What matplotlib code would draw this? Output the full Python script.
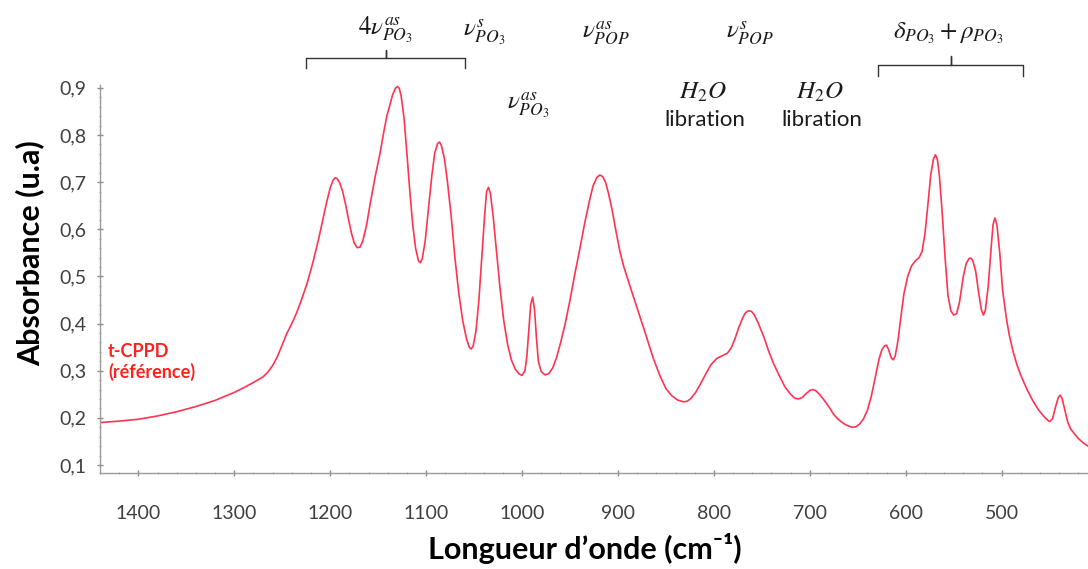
import matplotlib
matplotlib.use("Agg")
import matplotlib.pyplot as plt
from matplotlib.ticker import MultipleLocator, FuncFormatter
from matplotlib.lines import Line2D

plt.rcParams['font.family'] = ['Lato', 'DejaVu Sans']
plt.rcParams['mathtext.fontset'] = 'stix'

# Spectrum: wavenumber (cm-1) and absorbance (u.a)
wavenumber = [
    1440, 1434, 1420, 1400, 1380, 1360, 1340, 1320, 1300, 1290,
    1280, 1270, 1265, 1260, 1255, 1250, 1245, 1240, 1235, 1230,
    1224, 1218, 1212, 1208, 1204, 1200, 1197, 1195, 1193, 1190,
    1187, 1184, 1181, 1178, 1175, 1172, 1169, 1166, 1162, 1158,
    1153, 1148, 1144, 1141, 1138, 1135, 1132, 1130, 1128, 1126,
    1123, 1120, 1117, 1114, 1111, 1108, 1106, 1104, 1101, 1098,
    1094, 1091, 1088, 1086, 1084, 1081, 1078, 1074, 1070, 1066,
    1062, 1058, 1055, 1053, 1051, 1048, 1045, 1042, 1039, 1037,
    1035, 1033, 1030, 1027, 1023, 1019, 1015, 1011, 1007, 1003,
    1000, 997, 995, 993, 991, 989, 987, 985, 983, 980,
    976, 972, 968, 964, 960, 955, 950, 945, 940, 935,
    930, 926, 922, 919, 916, 913, 910, 906, 902, 898,
    894, 886, 877, 870, 863, 856, 850, 844, 838, 832,
    828, 824, 819, 814, 808, 803, 797, 791, 786, 782,
    778, 774, 770, 767, 764, 761, 758, 754, 748, 743,
    738, 732, 726, 720, 716, 712, 708, 704, 700, 697,
    694, 690, 686, 680, 675, 670, 664, 660, 656, 652,
    648, 644, 640, 636, 632, 628, 625, 622, 620, 618,
    615, 613, 611, 608, 605, 602, 598, 594, 590, 586,
    583, 580, 577, 574, 571, 569, 567, 565, 562, 559,
    556, 553, 550, 547, 544, 540, 537, 534, 532, 530,
    527, 524, 521, 519, 517, 514, 511, 509, 507, 505,
    502, 499, 495, 492, 488, 484, 480, 474, 468, 462,
    456, 452, 450, 447, 444, 441, 439, 437, 434, 431,
    428, 424, 420, 415, 410]
absorbance = [
    0.190, 0.191, 0.193, 0.197, 0.204, 0.213, 0.224, 0.237, 0.254, 0.264,
    0.275, 0.287, 0.297, 0.311, 0.330, 0.355, 0.380, 0.400, 0.423, 0.450,
    0.486, 0.530, 0.580, 0.618, 0.655, 0.688, 0.704, 0.709, 0.708, 0.698,
    0.680, 0.653, 0.622, 0.593, 0.571, 0.561, 0.562, 0.575, 0.610, 0.658,
    0.713, 0.762, 0.808, 0.840, 0.862, 0.885, 0.899, 0.903, 0.899, 0.882,
    0.835, 0.760, 0.680, 0.610, 0.560, 0.533, 0.529, 0.538, 0.575, 0.635,
    0.715, 0.762, 0.782, 0.785, 0.777, 0.750, 0.705, 0.630, 0.540, 0.465,
    0.408, 0.368, 0.350, 0.346, 0.352, 0.385, 0.450, 0.540, 0.630, 0.680,
    0.689, 0.676, 0.625, 0.560, 0.475, 0.405, 0.355, 0.322, 0.303, 0.293,
    0.290, 0.300, 0.330, 0.385, 0.440, 0.456, 0.430, 0.370, 0.320, 0.298,
    0.291, 0.294, 0.306, 0.328, 0.358, 0.400, 0.450, 0.505, 0.556, 0.610,
    0.658, 0.692, 0.710, 0.715, 0.712, 0.700, 0.677, 0.640, 0.595, 0.553,
    0.521, 0.470, 0.414, 0.370, 0.325, 0.288, 0.262, 0.247, 0.238, 0.234,
    0.235, 0.241, 0.254, 0.272, 0.295, 0.313, 0.326, 0.332, 0.337, 0.348,
    0.368, 0.392, 0.412, 0.423, 0.427, 0.426, 0.419, 0.402, 0.372, 0.342,
    0.316, 0.290, 0.266, 0.250, 0.242, 0.240, 0.243, 0.251, 0.258, 0.260,
    0.258, 0.250, 0.240, 0.223, 0.207, 0.196, 0.187, 0.183, 0.180, 0.181,
    0.187, 0.198, 0.216, 0.245, 0.284, 0.323, 0.344, 0.353, 0.354, 0.345,
    0.327, 0.323, 0.331, 0.365, 0.415, 0.462, 0.500, 0.522, 0.533, 0.540,
    0.553, 0.590, 0.650, 0.715, 0.750, 0.758, 0.748, 0.715, 0.635, 0.540,
    0.460, 0.427, 0.418, 0.421, 0.445, 0.500, 0.527, 0.538, 0.539, 0.533,
    0.510, 0.465, 0.428, 0.418, 0.428, 0.480, 0.560, 0.610, 0.624, 0.610,
    0.550, 0.470, 0.410, 0.375, 0.340, 0.312, 0.290, 0.262, 0.238, 0.218,
    0.203, 0.195, 0.192, 0.198, 0.222, 0.243, 0.248, 0.241, 0.215, 0.190,
    0.176, 0.166, 0.156, 0.147, 0.140]

x_ticks = [1400, 1300, 1200, 1100, 1000, 900, 800, 700, 600, 500]
y_ticks = [0.1, 0.2, 0.3, 0.4, 0.5, 0.6, 0.7, 0.8, 0.9]

W, H = 1088, 569
fig = plt.figure(figsize=(W / 100, H / 100), dpi=100)
ax = fig.add_axes([100 / W, 1 - 473 / H, 988 / W, (473 - 85) / H])

ax.plot(wavenumber, absorbance, color='#ff3352', lw=1.2,
        solid_joinstyle='round', solid_capstyle='round')
ax.set_xlim(1440, 410)
ax.set_ylim(0.083, 0.906)

for s in ['top', 'right']:
    ax.spines[s].set_visible(False)
for s in ['left', 'bottom']:
    ax.spines[s].set_color('#9a9a9a')
    ax.spines[s].set_linewidth(1.0)

ax.set_xticks(x_ticks)
ax.set_yticks(y_ticks)
ax.xaxis.set_minor_locator(MultipleLocator(20))
ax.yaxis.set_minor_locator(MultipleLocator(0.02))
ax.yaxis.set_major_formatter(FuncFormatter(lambda v, p: f"{v:.1f}".replace('.', ',')))
ax.tick_params(axis='both', which='major', colors='#8a8a8a', labelcolor='#404040',
               labelsize=14, length=4, width=1, direction='inout')
ax.tick_params(axis='both', which='minor', colors='#b0b0b0', length=2, width=0.8,
               direction='inout')
ax.tick_params(axis='x', which='major', pad=21)
ax.tick_params(axis='y', which='major', pad=8)

fig.text(30 / W, 1 - 253 / H, 'Absorbance (u.a)', rotation=90, ha='center', va='center',
         fontsize=22, fontweight='bold', color='black')
fig.text(585 / W, 1 - 548 / H, 'Longueur d\u2019onde (cm\u207b\u00b9)', ha='center', va='center',
         fontsize=22, fontweight='bold', color='black')

fig.text(108 / W, 1 - 362 / H, 't-CPPD\n(r\u00e9f\u00e9rence)', ha='left', va='center',
         fontsize=13, fontweight='bold', color='#ff2020', linespacing=1.2)


def ftext(x, y, s, size=18):
    fig.text(x / W, 1 - y / H, s, ha='center', va='center', fontsize=size, color='#1a1a1a')


ftext(385, 30, r'$4\nu^{as}_{PO_3}$')
ftext(484, 33, r'$\nu^{s}_{PO_3}$')
ftext(528, 106, r'$\nu^{as}_{PO_3}$')
ftext(606, 33, r'$\nu^{as}_{POP}$')
ftext(750, 33, r'$\nu^{s}_{POP}$')
ftext(948, 33, r'$\delta_{PO_3}+\rho_{PO_3}$')
ftext(703, 92, r'$H_2O$')
ftext(705, 120, 'libration', size=16)
ftext(820, 92, r'$H_2O$')
ftext(822, 120, 'libration', size=16)


def bracket(x0, x1, xc, ytop, yend, ytip):
    pts_x = [x0, x0, xc, xc, xc, x1, x1]
    pts_y = [yend, ytop, ytop, ytip, ytop, ytop, yend]
    fig.add_artist(Line2D([p / W for p in pts_x], [1 - p / H for p in pts_y],
                          color='#333333', lw=1.0, transform=fig.transFigure))


bracket(306, 465, 386, 58, 68, 50)
bracket(878, 1023, 951, 65, 76, 56)

fig.savefig('out.png', dpi=100, facecolor='white')
